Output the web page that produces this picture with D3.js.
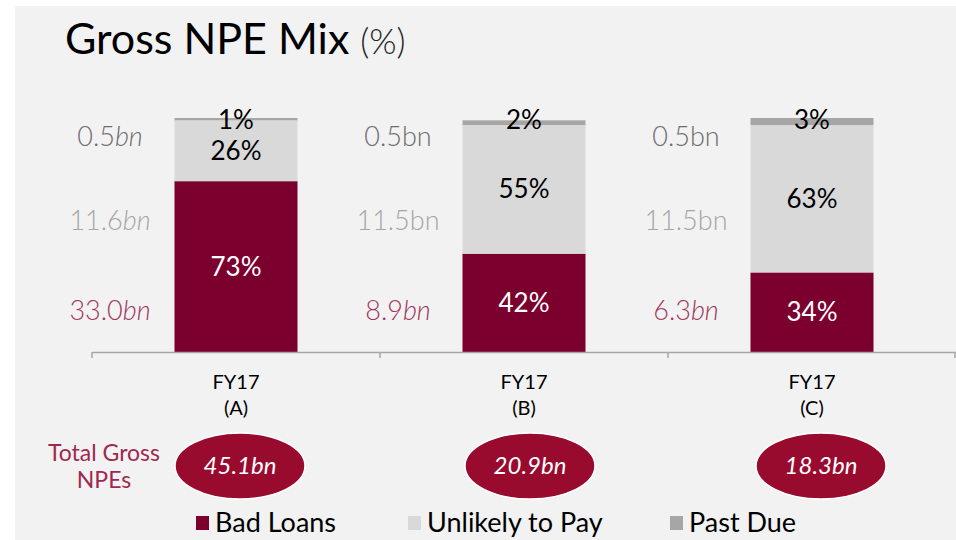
<!DOCTYPE html>
<html>
<head>
<meta charset="utf-8">
<script src="https://cdn.jsdelivr.net/npm/d3@7"></script>
<style>
  body { margin: 0; background: #ffffff; }
  svg { display: block; font-family: Lato, "Open Sans", sans-serif; }
</style>
</head>
<body>
<div id="chart"></div>
<script>
// data
const categories = ['A', 'B', 'C'];
const badLoans = [73, 42, 34];
const unlikelyToPay = [26, 55, 63];
const pastDue = [1, 2, 3];
const badLoansBn = ['33.0', '8.9', '6.3'];
const utpBn = ['11.6', '11.5', '11.5'];
const pastDueBn = ['0.5', '0.5', '0.5'];
const totals = ['45.1', '20.9', '18.3'];
const seriesNames = ['Bad Loans', 'Unlikely to Pay', 'Past Due'];
const seriesColors = ['#7b002e', '#d9d9d9', '#a6a6a6'];

const width = 956, height = 540;

const svg = d3.select('#chart').append('svg')
  .attr('width', width)
  .attr('height', height);

// panel background
svg.append('rect')
  .attr('x', 15).attr('y', 6)
  .attr('width', width - 15).attr('height', height - 6)
  .attr('fill', '#f2f2f2');

// title
const title = svg.append('text')
  .attr('x', 65).attr('y', 54)
  .attr('fill', '#000');
title.append('tspan').attr('font-size', 43).text('Gross NPE Mix ');
title.append('tspan').attr('font-size', 35).attr('font-weight', 300).attr('fill', '#222').text('(%)');

// scales
const x = d3.scaleBand()
  .domain(categories)
  .range([92, 956]);

const y = d3.scaleLinear()
  .domain([0, 100])
  .range([352, 118]);

const barW = 123;

const rows = categories.map((c, i) => ({
  cat: c, bad: badLoans[i], utp: unlikelyToPay[i], pd: pastDue[i]
}));
const stack = d3.stack().keys(['bad', 'utp', 'pd'])(rows);

const layer = svg.selectAll('.layer')
  .data(stack)
  .enter().append('g')
  .attr('class', 'layer')
  .attr('fill', (d, i) => seriesColors[i]);

layer.selectAll('rect')
  .data(d => d)
  .enter().append('rect')
  .attr('x', d => x(d.data.cat) + x.bandwidth() / 2 - barW / 2)
  .attr('y', d => y(d[1]))
  .attr('width', barW)
  .attr('height', d => y(d[0]) - y(d[1]));

// axis
const axis = svg.append('g')
  .attr('transform', 'translate(0,352)')
  .call(d3.axisBottom(x).tickSize(0).tickFormat(''));
axis.select('.domain').attr('stroke', '#a6a6a6').attr('stroke-width', 1.5);
axis.selectAll('.sep')
  .data([92, 92 + x.step(), 92 + 2 * x.step(), 955])
  .enter().append('line')
  .attr('x1', d => d).attr('x2', d => d)
  .attr('y1', 0).attr('y2', 6)
  .attr('stroke', '#a6a6a6').attr('stroke-width', 1.5);

// category labels
categories.forEach((c, i) => {
  const cx = x(c) + x.bandwidth() / 2;
  const t = svg.append('text')
    .attr('x', cx).attr('text-anchor', 'middle')
    .attr('font-size', 20).attr('fill', '#000');
  t.append('tspan').attr('x', cx).attr('y', 389).text('FY17');
  t.append('tspan').attr('x', cx).attr('y', 415).text('(' + c + ')');
});

// percentage labels inside the bars
stack.forEach((s, si) => {
  s.forEach((d, i) => {
    const cx = x(d.data.cat) + x.bandwidth() / 2;
    let cy = (y(d[0]) + y(d[1])) / 2;
    if (si === 2) cy = y(100) + 2;
    svg.append('text')
      .attr('x', cx).attr('y', cy)
      .attr('dy', '0.35em')
      .attr('text-anchor', 'middle')
      .attr('font-size', 26)
      .attr('fill', si === 0 ? '#ffffff' : '#000000')
      .text(d[1] - d[0] + '%');
  });
});

// amount labels to the left of each bar
const amountRows = [
  { vals: pastDueBn, y: 137, color: '#6e6e6e', italic: [true, false, false] },
  { vals: utpBn, y: 221, color: '#a6a6a6', italic: [true, false, false] },
  { vals: badLoansBn, y: 311, color: '#a3365e', italic: [true, true, true] }
];
amountRows.forEach(r => {
  categories.forEach((c, i) => {
    const t = svg.append('text')
      .attr('x', x(c) + x.bandwidth() / 2 - 126)
      .attr('y', r.y).attr('dy', '0.35em')
      .attr('text-anchor', 'middle')
      .attr('font-size', 27).attr('font-weight', 300)
      .attr('fill', r.color);
    t.append('tspan').text(r.vals[i]);
    t.append('tspan').attr('font-style', r.italic[i] ? 'italic' : 'normal').text('bn');
  });
});

// totals row
const tg = svg.append('text')
  .attr('x', 104).attr('text-anchor', 'middle')
  .attr('font-size', 23).attr('fill', '#a0284f');
tg.append('tspan').attr('x', 104).attr('y', 461).text('Total Gross');
tg.append('tspan').attr('x', 104).attr('y', 488).text('NPEs');

const ellipseShift = [4, 6, 9];
categories.forEach((c, i) => {
  const cx = x(c) + x.bandwidth() / 2 + ellipseShift[i];
  svg.append('ellipse')
    .attr('cx', cx).attr('cy', 466)
    .attr('rx', 65).attr('ry', 33)
    .attr('fill', '#990a2f')
    .attr('stroke', '#ffffff').attr('stroke-width', 1.5);
  const t = svg.append('text')
    .attr('x', cx).attr('y', 466).attr('dy', '0.35em')
    .attr('text-anchor', 'middle')
    .attr('font-size', 24).attr('font-style', 'italic')
    .attr('fill', '#ffffff');
  t.append('tspan').text(totals[i]);
  t.append('tspan').text('bn');
});

// legend
const legendX = [196, 408, 670];
seriesNames.forEach((n, i) => {
  svg.append('rect')
    .attr('x', legendX[i]).attr('y', 516)
    .attr('width', 13).attr('height', 14)
    .attr('fill', seriesColors[i]);
  svg.append('text')
    .attr('x', legendX[i] + 19).attr('y', 532)
    .attr('font-size', 27).attr('fill', '#000')
    .text(n);
});
</script>
</body>
</html>
